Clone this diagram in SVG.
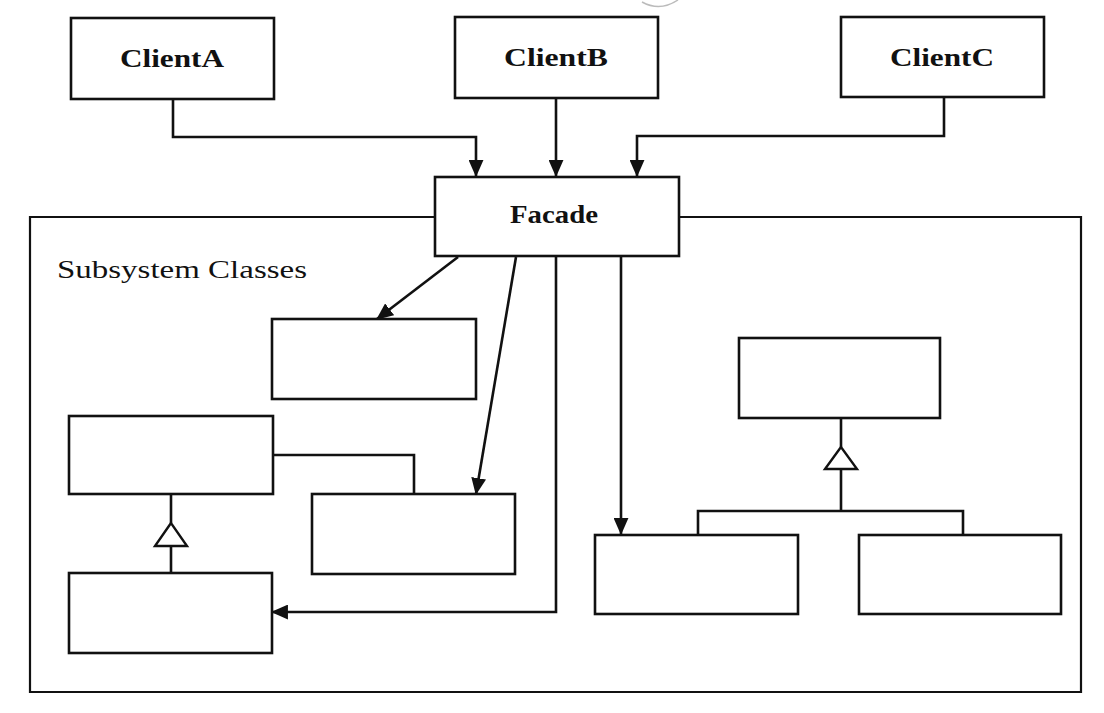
<svg xmlns="http://www.w3.org/2000/svg" width="1104" height="713" viewBox="0 0 1104 713">
<style>
.box{fill:#fff;stroke:#111;stroke-width:2.6}
.line{fill:none;stroke:#111;stroke-width:2.6}
.frame{fill:none;stroke:#111;stroke-width:2.2}
.lbl{font-family:"Liberation Serif",serif;font-weight:bold;font-size:26px;fill:#111}
.title{font-family:"Liberation Serif",serif;font-size:26px;fill:#111}
.tri{fill:#fff;stroke:#111;stroke-width:2.4}
</style>
<defs>
<marker id="arr" viewBox="0 0 16 14" refX="15" refY="7" markerWidth="17" markerHeight="15" markerUnits="userSpaceOnUse" orient="auto">
<path d="M0,0 L16,7 L0,14 Z" fill="#111"/>
</marker>
</defs>
<rect width="1104" height="713" fill="#fff"/>
<path d="M642,2 Q660,12 678,0" fill="none" stroke="#bbb" stroke-width="1.5"/>
<g id="subsystem-frame">
<path class="frame" d="M434,217 L30,217 L30,692 L1081,692 L1081,217 L679,217"/>
<text class="title" x="57" y="278" textLength="250" lengthAdjust="spacingAndGlyphs">Subsystem Classes</text>
</g>
<g id="connectors">
<path class="line" marker-end="url(#arr)" d="M173,99 L173,137 L476,137 L476,176"/>
<path class="line" marker-end="url(#arr)" d="M556,98 L556,176"/>
<path class="line" marker-end="url(#arr)" d="M944,97 L944,136 L637,136 L637,176"/>
<path class="line" marker-end="url(#arr)" d="M458,257 L377,319"/>
<path class="line" marker-end="url(#arr)" d="M516,257 L476,494"/>
<path class="line" marker-end="url(#arr)" d="M556,257 L556,612 L272,612"/>
<path class="line" marker-end="url(#arr)" d="M621,257 L621,534"/>
<path class="line" d="M273,455 L414,455 L414,494"/>
<path class="line" d="M171,494 L171,523 M171,546 L171,573"/>
<path class="tri" d="M171,523 L155,546 L187,546 Z"/>
<path class="line" d="M841,418 L841,447 M841,469 L841,511 M698,535 L698,511 L963,511 L963,535"/>
<path class="tri" d="M841,447 L825,469 L857,469 Z"/>
</g>
<g id="clientA"><rect class="box" x="71" y="18" width="203" height="81"/><text class="lbl" x="172" y="67" text-anchor="middle" textLength="104" lengthAdjust="spacingAndGlyphs">ClientA</text></g>
<g id="clientB"><rect class="box" x="455" y="17" width="203" height="81"/><text class="lbl" x="556" y="66" text-anchor="middle" textLength="104" lengthAdjust="spacingAndGlyphs">ClientB</text></g>
<g id="clientC"><rect class="box" x="841" y="17" width="203" height="80"/><text class="lbl" x="942" y="66" text-anchor="middle" textLength="104" lengthAdjust="spacingAndGlyphs">ClientC</text></g>
<g id="facade"><rect class="box" x="435" y="177" width="244" height="79"/><text class="lbl" x="554" y="223" text-anchor="middle" textLength="88" lengthAdjust="spacingAndGlyphs">Facade</text></g>
<g id="class1"><rect class="box" x="272" y="319" width="204" height="80"/></g>
<g id="class2"><rect class="box" x="69" y="416" width="204" height="78"/></g>
<g id="class3"><rect class="box" x="312" y="494" width="203" height="80"/></g>
<g id="class4"><rect class="box" x="69" y="573" width="203" height="80"/></g>
<g id="class5"><rect class="box" x="739" y="338" width="201" height="80"/></g>
<g id="class6"><rect class="box" x="595" y="535" width="203" height="79"/></g>
<g id="class7"><rect class="box" x="859" y="535" width="202" height="79"/></g>
</svg>
